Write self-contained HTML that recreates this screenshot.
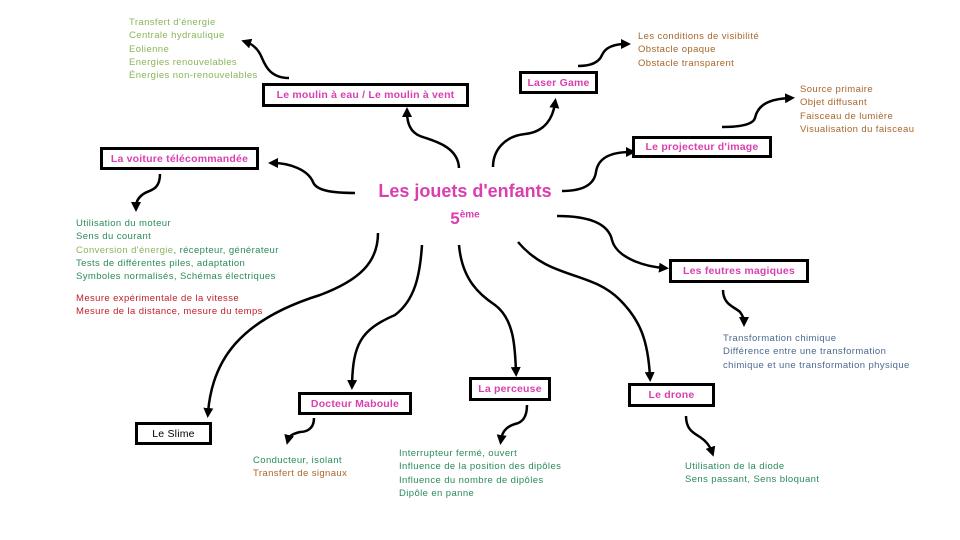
<!DOCTYPE html>
<html><head><meta charset="utf-8"><style>
body{margin:0;background:#fff;}
#c{position:relative;width:960px;height:540px;overflow:hidden;font-family:"Liberation Sans",sans-serif;}
.t{position:absolute;font-size:9.5px;line-height:13.3px;white-space:nowrap;letter-spacing:0.4px;}
.box{position:absolute;border:3px solid #000;box-sizing:border-box;color:#d93fb0;font-size:10.5px;display:flex;align-items:center;justify-content:center;font-weight:bold;white-space:nowrap;background:#fff;letter-spacing:0.2px;}
svg{position:absolute;left:0;top:0;}
</style></head><body><div id="c">
<svg width="960" height="540" viewBox="0 0 960 540">
<defs><marker id="a" viewBox="0 0 10 10" refX="5" refY="5" markerWidth="4" markerHeight="4" orient="auto-start-reverse"><path d="M0,0 L10,5 L0,10 z" fill="#000"/></marker></defs>
<g fill="none" stroke="#000" stroke-width="2.5" marker-end="url(#a)">
<path d="M459,168 C458,145 430,140 420,136 C410,132 407,122 407,112"/>
<path d="M289,78 C270,78 265,65 262,58 C258,48 252,44 246,42"/>
<path d="M355,193 C330,193 316,190 313,182 C308,170 290,163 273,163"/>
<path d="M160,174 C160,190 150,190 145,193 C138,197 136,202 136,207"/>
<path d="M493,167 C493,150 505,136 525,134 C545,132 553,118 555,103"/>
<path d="M578,66 C595,66 600,60 602,55 C606,46 616,44 626,44"/>
<path d="M562,191 C580,191 594,186 596,172 C598,158 610,152 631,152"/>
<path d="M722,127 C738,127 753,125 755,118 C758,104 770,99 790,98"/>
<path d="M557,216 C585,216 608,222 612,240 C616,256 640,266 664,268"/>
<path d="M723,290 C723,305 735,307 740,312 C743,316 744,320 744,322"/>
<path d="M378,233 C378,262 360,280 320,295 C240,320 212,360 208,413"/>
<path d="M422,245 C420,275 415,300 395,315 C360,330 353,345 352,385"/>
<path d="M459,245 C462,280 480,295 495,305 C515,320 515,350 516,372"/>
<path d="M518,242 C550,280 590,270 620,300 C640,320 648,340 650,377"/>
<path d="M314,418 C314,430 305,432 300,432 C292,434 289,436 288,440"/>
<path d="M527,405 C527,420 520,423 515,424 C505,427 502,433 501,440"/>
<path d="M686,416 C686,430 694,433 700,437 C706,441 710,446 712,452"/>
</g></svg>
<div class="t" style="left:129px;top:16px;color:#8ab55a">Transfert d'énergie<br>Centrale hydraulique<br>Eolienne<br>Energies renouvelables<br>Énergies non-renouvelables</div>
<div class="t" style="left:638px;top:30px;color:#a8652a">Les conditions de visibilité<br>Obstacle opaque<br>Obstacle transparent</div>
<div class="t" style="left:800px;top:83px;color:#a8652a">Source primaire<br>Objet diffusant<br>Faisceau de lumière<br>Visualisation du faisceau</div>
<div class="t" style="left:76px;top:217px;color:#2a8a5a">Utilisation du moteur<br>Sens du courant<br><span style="color:#8ab55a">Conversion d'énergie</span>, récepteur, générateur<br>Tests de différentes piles, adaptation<br>Symboles normalisés, Schémas électriques</div>
<div class="t" style="left:76px;top:292px;color:#c0202a">Mesure expérimentale de la vitesse<br>Mesure de la distance, mesure du temps</div>
<div class="t" style="left:723px;top:332px;color:#4a6a90">Transformation chimique<br>Différence entre une transformation<br>chimique et une transformation physique</div>
<div class="t" style="left:253px;top:454px;color:#2a8a5a">Conducteur, isolant<br><span style="color:#a8652a">Transfert de signaux</span></div>
<div class="t" style="left:399px;top:447px;color:#2a8a5a">Interrupteur fermé, ouvert<br>Influence de la position des dipôles<br>Influence du nombre de dipôles<br>Dipôle en panne</div>
<div class="t" style="left:685px;top:460px;color:#2a8a5a">Utilisation de la diode<br>Sens passant, Sens bloquant</div>
<div class="box" style="left:262px;top:83px;width:207px;height:24px">Le moulin à eau / Le moulin à vent</div>
<div class="box" style="left:100px;top:147px;width:159px;height:23px">La voiture télécommandée</div>
<div class="box" style="left:519px;top:71px;width:79px;height:23px">Laser Game</div>
<div class="box" style="left:632px;top:136px;width:140px;height:22px">Le projecteur d'image</div>
<div class="box" style="left:669px;top:259px;width:140px;height:24px">Les feutres magiques</div>
<div class="box" style="left:135px;top:422px;width:77px;height:23px;color:#000;font-weight:normal">Le Slime</div>
<div class="box" style="left:298px;top:392px;width:114px;height:23px">Docteur Maboule</div>
<div class="box" style="left:469px;top:377px;width:82px;height:24px">La perceuse</div>
<div class="box" style="left:628px;top:383px;width:87px;height:24px">Le drone</div>
<div style="position:absolute;left:370px;top:179px;width:190px;text-align:center;color:#d93fb0;font-weight:bold;font-size:18px;line-height:24px">Les jouets d'enfants<br><span style="font-size:17px">5<sup style="font-size:10px">ème</sup></span></div>
</div></body></html>
